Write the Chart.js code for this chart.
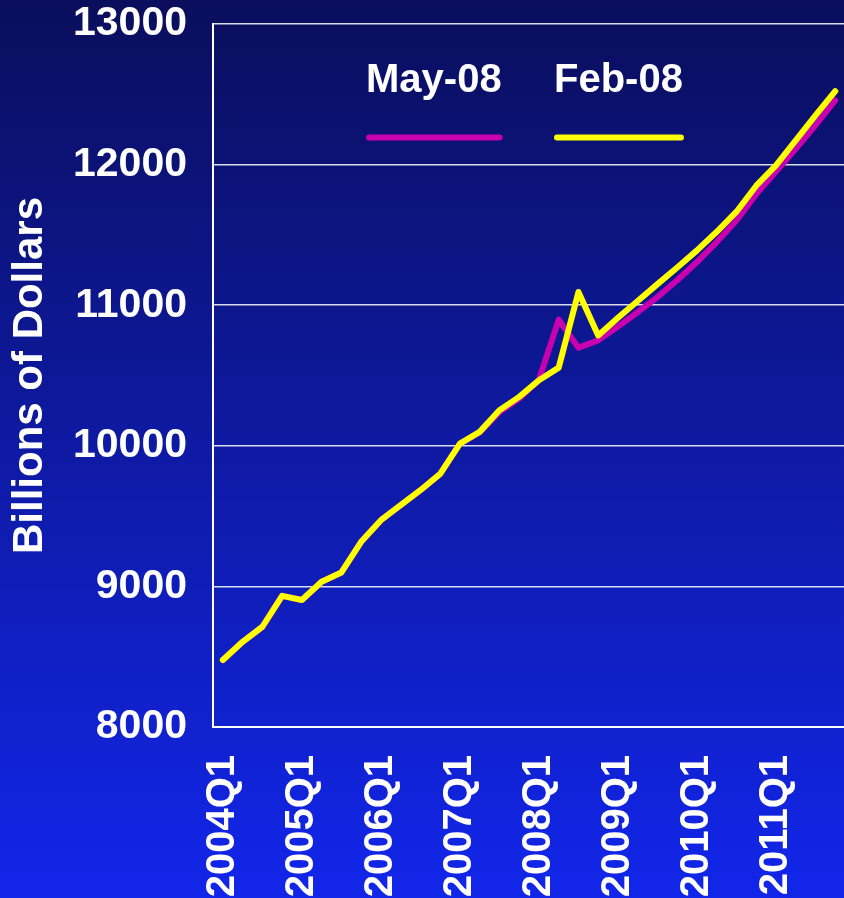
<!DOCTYPE html>
<html>
<head>
<meta charset="utf-8">
<script src="https://cdn.jsdelivr.net/npm/chart.js@4/dist/chart.umd.min.js"></script>
<style>
    html, body { margin: 0; padding: 0; width: 844px; height: 898px; overflow: hidden; }
    body { background: linear-gradient(to bottom, #0a0e5c 0%, #1226ea 100%); }
    #wrap { position: absolute; left: 0; top: 0; width: 852px; height: 898px; }
</style>
</head>
<body>
<div id="wrap"><canvas id="gdpChart"></canvas></div>
<script>
// --- quarterly forecast, billions of dollars ---

const quarters = [
    '2004Q1', '2004Q2', '2004Q3', '2004Q4',
    '2005Q1', '2005Q2', '2005Q3', '2005Q4',
    '2006Q1', '2006Q2', '2006Q3', '2006Q4',
    '2007Q1', '2007Q2', '2007Q3', '2007Q4',
    '2008Q1', '2008Q2', '2008Q3', '2008Q4',
    '2009Q1', '2009Q2', '2009Q3', '2009Q4',
    '2010Q1', '2010Q2', '2010Q3', '2010Q4',
    '2011Q1', '2011Q2', '2011Q3', '2011Q4'
];

const may08 = [
    8476, 8606, 8713, 8933,
    8903, 9033, 9099, 9317,
    9471, 9578, 9684, 9800,
    10016, 10095, 10240, 10336,
    10470, 10897, 10698, 10750,
    10848, 10950, 11058, 11177,
    11307, 11449, 11603, 11790,
    11950, 12113, 12280, 12456
];

const feb08 = [
    8476, 8606, 8713, 8933,
    8903, 9033, 9099, 9317,
    9471, 9578, 9684, 9800,
    10016, 10099, 10253, 10348,
    10466, 10556, 11094, 10785,
    10910, 11030, 11150, 11268,
    11390, 11522, 11665, 11850,
    11995, 12172, 12350, 12522
];

const yTicks = [8000, 9000, 10000, 11000, 12000, 13000];

const FONT = "'Liberation Sans', Arial, sans-serif";

// legend: text on top, line sample underneath
const legendPlugin = {
    id: 'topLegend',
    afterDraw(chart) {
        const ctx = chart.ctx;
        const spots = [366, 554];
        ctx.save();
        ctx.font = `bold 40px ${FONT}`;
        ctx.textBaseline = 'alphabetic';
        ctx.textAlign = 'left';
        chart.data.datasets.forEach((ds, i) => {
            const x = spots[i];
            const w = ctx.measureText(ds.label).width;
            ctx.fillStyle = '#ffffff';
            ctx.fillText(ds.label, x, 92);
            ctx.strokeStyle = ds.borderColor;
            ctx.lineWidth = 6;
            ctx.lineCap = 'round';
            ctx.beginPath();
            ctx.moveTo(x + 3, 137.5);
            ctx.lineTo(x + w - 2, 137.5);
            ctx.stroke();
        });
        ctx.restore();
    }
};

const ctx = document.getElementById('gdpChart');

new Chart(ctx, {
    type: 'line',
    data: {
        labels: quarters,
        datasets: [
            {
                label: 'May-08',
                data: may08,
                borderColor: '#c800b0',
                borderWidth: 6,
                pointRadius: 0,
                tension: 0,
                borderJoinStyle: 'round',
                borderCapStyle: 'round',
                fill: false,
                order: 1
            },
            {
                label: 'Feb-08',
                data: feb08,
                borderColor: '#ffff00',
                borderWidth: 6,
                pointRadius: 0,
                tension: 0,
                borderJoinStyle: 'round',
                borderCapStyle: 'round',
                fill: false,
                order: 0
            }
        ]
    },
    options: {
        responsive: true,
        maintainAspectRatio: false,
        animation: false,
        layout: { padding: 0 },
        plugins: {
            legend: { display: false },
            tooltip: { enabled: false }
        },
        scales: {
            x: {
                offset: true,
                grid: { display: false, drawTicks: false },
                border: { display: true, color: '#ffffff', width: 2 },
                afterFit: scale => { scale.height = 171; },
                ticks: {
                    autoSkip: false,
                    maxRotation: 90,
                    minRotation: 90,
                    padding: 28,
                    color: '#ffffff',
                    font: { family: FONT, size: 40, weight: 'bold' },
                    callback: function (val, idx) {
                        return idx % 4 === 0 ? quarters[idx] : null;
                    }
                }
            },
            y: {
                min: yTicks[0],
                max: yTicks[yTicks.length - 1],
                afterFit: scale => {
                    scale.width = 213;
                    scale.paddingTop = 24;
                    scale.paddingBottom = 0;
                },
                afterBuildTicks: scale => { scale.ticks = yTicks.map(v => ({ value: v })); },
                grid: { color: 'rgba(255,255,255,0.85)', lineWidth: 1.5, drawTicks: false },
                border: { display: true, color: '#ffffff', width: 2 },
                ticks: {
                    padding: 26,
                    color: '#ffffff',
                    font: { family: FONT, size: 41, weight: 'bold' },
                    callback: v => String(v)
                },
                title: {
                    display: true,
                    text: 'Billions of Dollars',
                    color: '#ffffff',
                    font: { family: FONT, size: 42, weight: 'bold' },
                    padding: { top: 5, bottom: 0 }
                }
            }
        }
    },
    plugins: [legendPlugin]
});
</script>
</body>
</html>
